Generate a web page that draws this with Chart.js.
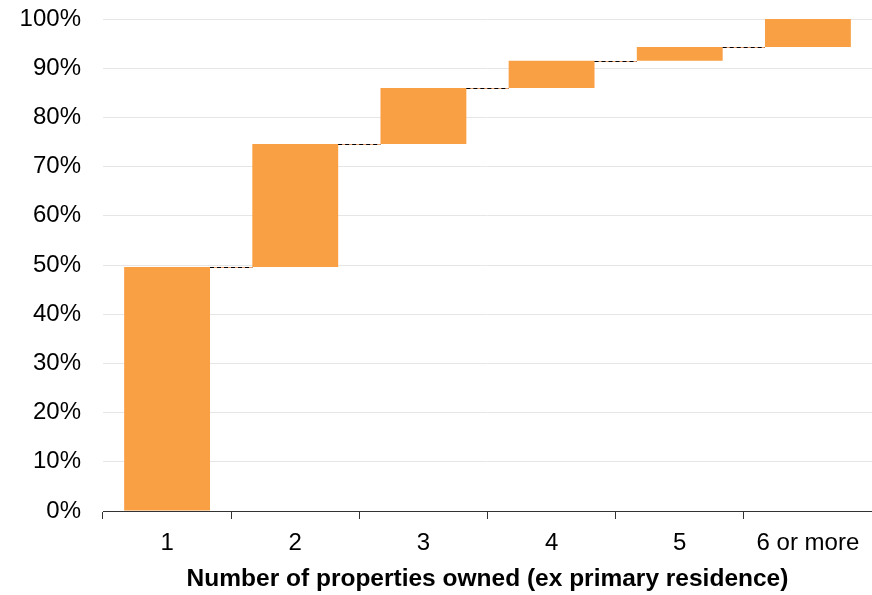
<!DOCTYPE html>
<html>
<head>
<meta charset="utf-8">
<script src="https://cdn.jsdelivr.net/npm/chart.js@4/dist/chart.umd.min.js"></script>
<style>
  html, body { margin: 0; padding: 0; background: #fff; }
  #wrap { width: 872px; height: 595px; }
</style>
</head>
<body>
<div id="wrap"><canvas id="chart" width="872" height="595"></canvas></div>
<script>
const categories = ['1', '2', '3', '4', '5', '6 or more'];
const increments = [49.6, 25.0, 11.4, 5.5, 2.8, 5.7];
const yTicks = [0, 10, 20, 30, 40, 50, 60, 70, 80, 90, 100];

// running totals for the waterfall
const tops = [];
let run = 0;
increments.forEach(v => { run += v; tops.push(Math.min(run, 100)); });
const floating = tops.map((t, i) => [i === 0 ? 0 : tops[i - 1], t]);

const orange = '#F9A045';

const connectors = {
  id: 'connectors',
  afterDatasetsDraw(chart) {
    const ctx = chart.ctx;
    const meta = chart.getDatasetMeta(0);
    const y = chart.scales.y;
    for (let i = 0; i < meta.data.length - 1; i++) {
      const a = meta.data[i], b = meta.data[i + 1];
      const py = Math.round(y.getPixelForValue(tops[i])) + 0.5;
      const x1 = a.x + a.width / 2, x2 = b.x - b.width / 2;
      ctx.save();
      ctx.lineWidth = 1;
      ctx.strokeStyle = '#E8A070';
      ctx.beginPath(); ctx.moveTo(x1, py); ctx.lineTo(x2, py); ctx.stroke();
      ctx.strokeStyle = '#000';
      ctx.setLineDash([4, 3]);
      ctx.beginPath(); ctx.moveTo(x1, py); ctx.lineTo(x2, py); ctx.stroke();
      ctx.restore();
    }
  }
};

Chart.defaults.font.family = 'Arial, "Liberation Sans", sans-serif';
Chart.defaults.color = '#000';

new Chart(document.getElementById('chart').getContext('2d'), {
  type: 'bar',
  data: {
    labels: categories,
    datasets: [{
      data: floating,
      backgroundColor: orange,
      borderWidth: 0,
      categoryPercentage: 1,
      barPercentage: 0.67
    }]
  },
  options: {
    responsive: false,
    animation: false,
    layout: { padding: { top: 19, right: 0, left: 0, bottom: 0 } },
    plugins: { legend: { display: false }, tooltip: { enabled: false } },
    scales: {
      x: {
        offset: true,
        grid: { offset: true, drawOnChartArea: false, drawTicks: true, tickLength: 8, color: '#333' },
        border: { display: true, color: '#333', width: 1 },
        ticks: { font: { size: 24 }, padding: 10 },
        title: {
          display: true,
          text: 'Number of properties owned (ex primary residence)',
          font: { size: 24.5, weight: 'bold' },
          padding: { top: 4, bottom: 1 }
        },
        afterFit(scale) {
          scale.height = 84;
          scale.paddingLeft = scale.paddingRight = 0;
        }
      },
      y: {
        min: 0, max: 100,
        afterBuildTicks(scale) { scale.ticks = yTicks.map(v => ({ value: v })); },
        grid: { color: '#E6E6E6', drawTicks: false },
        border: { display: false },
        ticks: { font: { size: 24 }, padding: 22, callback: v => v + '%' },
        afterFit(scale) {
          scale.width = 103;
          scale.paddingTop = scale.paddingBottom = 0;
        }
      }
    }
  },
  plugins: [connectors]
});
</script>
</body>
</html>
